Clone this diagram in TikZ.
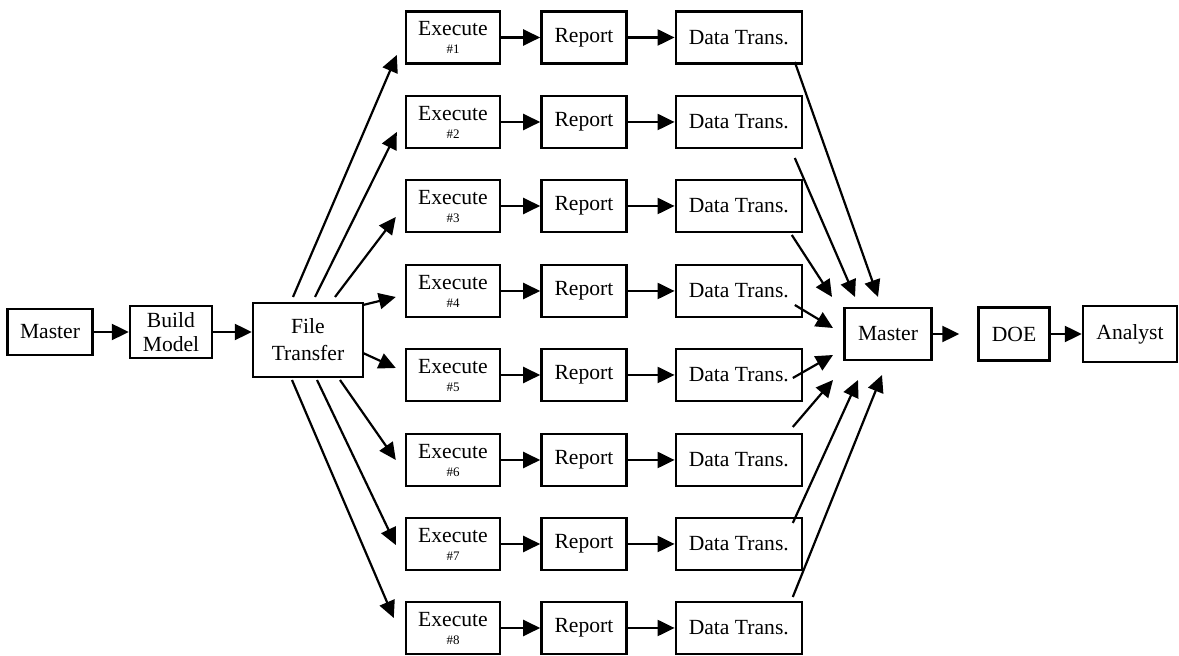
\documentclass[tikz,border=0pt]{standalone}
\usepackage{fontspec}
\setmainfont{Liberation Serif}
\usetikzlibrary{arrows.meta,calc,positioning}

\begin{document}
\begin{tikzpicture}[x=0.5pt,y=-0.5pt,
		box/.style={draw,line width=1.2pt,inner sep=1pt,align=center,font=\fontsize{10.8}{12}\selectfont,minimum height=26pt},
		exbox/.style={box,minimum width=47pt},
		repbox/.style={box,minimum width=42.5pt},
		dtbox/.style={box,minimum width=63pt},
		arr/.style={line width=1.1pt,-{Triangle[length=8.5pt,width=8pt]}}]
				
				\useasboundingbox (0,0) rectangle (1179,656);
				
				\node[box,minimum width=42.5pt,minimum height=23pt] (mL) at (50,332) {Master};
				\node[box,minimum width=41pt] (build) at (171,332) {Build\\Model};
				\node[box,minimum width=55pt,minimum height=37pt] (ft) at (308,340) {File\\[1.5pt]Transfer};
				
				\node[exbox] (ex1) at (453,37.5) {Execute\\[-3pt]{\fontsize{6.5}{7}\selectfont\#1}};
				\node[exbox] (ex2) at (453,122) {Execute\\[-3pt]{\fontsize{6.5}{7}\selectfont\#2}};
				\node[exbox] (ex3) at (453,206) {Execute\\[-3pt]{\fontsize{6.5}{7}\selectfont\#3}};
				\node[exbox] (ex4) at (453,291) {Execute\\[-3pt]{\fontsize{6.5}{7}\selectfont\#4}};
				\node[exbox] (ex5) at (453,375) {Execute\\[-3pt]{\fontsize{6.5}{7}\selectfont\#5}};
				\node[exbox] (ex6) at (453,460) {Execute\\[-3pt]{\fontsize{6.5}{7}\selectfont\#6}};
				\node[exbox] (ex7) at (453,544) {Execute\\[-3pt]{\fontsize{6.5}{7}\selectfont\#7}};
				\node[exbox] (ex8) at (453,628) {Execute\\[-3pt]{\fontsize{6.5}{7}\selectfont\#8}};
				
				\node[repbox,right=19.5pt of ex1] (rep1) {Report};
				\node[repbox,right=19.5pt of ex2] (rep2) {Report};
				\node[repbox,right=19.5pt of ex3] (rep3) {Report};
				\node[repbox,right=19.5pt of ex4] (rep4) {Report};
				\node[repbox,right=19.5pt of ex5] (rep5) {Report};
				\node[repbox,right=19.5pt of ex6] (rep6) {Report};
				\node[repbox,right=19.5pt of ex7] (rep7) {Report};
				\node[repbox,right=19.5pt of ex8] (rep8) {Report};
				
				\node[dtbox,right=23.5pt of rep1] (dt1) {Data Trans.};
				\node[dtbox,right=23.5pt of rep2] (dt2) {Data Trans.};
				\node[dtbox,right=23.5pt of rep3] (dt3) {Data Trans.};
				\node[dtbox,right=23.5pt of rep4] (dt4) {Data Trans.};
				\node[dtbox,right=23.5pt of rep5] (dt5) {Data Trans.};
				\node[dtbox,right=23.5pt of rep6] (dt6) {Data Trans.};
				\node[dtbox,right=23.5pt of rep7] (dt7) {Data Trans.};
				\node[dtbox,right=23.5pt of rep8] (dt8) {Data Trans.};
				
				\node[box,minimum width=43.5pt] (mR) at (888,334) {Master};
				\node[box,minimum width=35.5pt,minimum height=26.5pt] (doe) at (1014,334) {DOE};
				\node[box,minimum width=47pt,minimum height=28pt] (an) at (1130,334) {Analyst};
				
				% main line
				\draw[arr] (mL) -- (build);
				\draw[arr] (build.east) -- (build.east -| ft.west);
				\draw[arr,shorten >=9pt] (mR) -- (doe);
				\draw[arr] (doe) -- (an);
				
				% fan out to the runs
				\draw[arr] ($(ft.center)+(-15,-43)$) -- ($(ex1.west)+(-8,17.5)$);
				\draw[arr] ($(ft.center)+(7,-43)$) -- ($(ex2.west)+(-8,10)$);
				\draw[arr] ($(ft.center)+(27,-43)$) -- ($(ex3.west)+(-9,11)$);
				\draw[arr] ($(ft.center)+(55,-35)$) -- ($(ex4.west)+(-9,6)$);
				\draw[arr] ($(ft.center)+(55,13)$) -- ($(ex5.west)+(-9,-7)$);
				\draw[arr] ($(ft.center)+(32,40)$) -- ($(ex6.west)+(-9,0)$);
				\draw[arr] ($(ft.center)+(9,40)$) -- ($(ex7.west)+(-9,1)$);
				\draw[arr] ($(ft.center)+(-16,40)$) -- ($(ex8.west)+(-11,-10)$);
				
				% rows
				\draw[arr] (ex1) -- (rep1); \draw[arr] (rep1) -- (dt1);
				\draw[arr] (ex2) -- (rep2); \draw[arr] (rep2) -- (dt2);
				\draw[arr] (ex3) -- (rep3); \draw[arr] (rep3) -- (dt3);
				\draw[arr] (ex4) -- (rep4); \draw[arr] (rep4) -- (dt4);
				\draw[arr] (ex5) -- (rep5); \draw[arr] (rep5) -- (dt5);
				\draw[arr] (ex6) -- (rep6); \draw[arr] (rep6) -- (dt6);
				\draw[arr] (ex7) -- (rep7); \draw[arr] (rep7) -- (dt7);
				\draw[arr] (ex8) -- (rep8); \draw[arr] (rep8) -- (dt8);
				
				% gather back to the master
				\draw[arr] ($(dt1.center)+(56,24.5)$) -- ($(mR.center)+(-10,-37)$);
				\draw[arr] ($(dt2.center)+(56,36)$) -- ($(mR.center)+(-33,-37)$);
				\draw[arr] ($(dt3.center)+(53,29)$) -- ($(mR.center)+(-56,-37)$);
				\draw[arr] ($(dt4.center)+(56,14)$) -- ($(mR.center)+(-55,-6)$);
				\draw[arr] ($(dt5.center)+(54,3)$) -- ($(mR.center)+(-55,21)$);
				\draw[arr] ($(dt6.center)+(54,-33)$) -- ($(mR.center)+(-55,46)$);
				\draw[arr] ($(dt7.center)+(54,-21)$) -- ($(mR.center)+(-30,46)$);
				\draw[arr] ($(dt8.center)+(54,-31)$) -- ($(mR.center)+(-6,41)$);
			\end{tikzpicture}
\end{document}
